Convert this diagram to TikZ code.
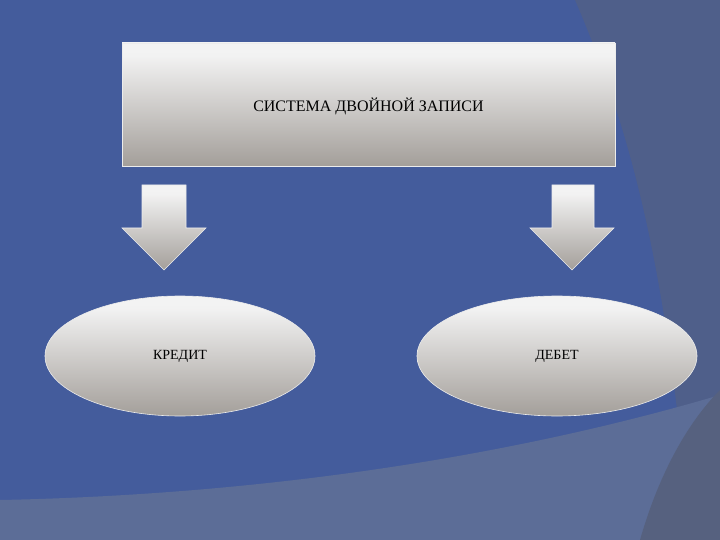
\documentclass[tikz,border=0pt]{standalone}
\usepackage{fontspec}
\setmainfont{Liberation Serif}
\usetikzlibrary{shapes.geometric}
\pgfdeclareverticalshading{metal}{100bp}{color(0bp)=(gray!60!white);color(12bp)=(gray!70!white);color(22bp)=(gray!90!brown!80!white);color(70bp)=(white!90!gray);color(100bp)=(white!95!gray)}
\definecolor{bgblue}{HTML}{445C9C}
\definecolor{bgslate}{HTML}{4F5F8A}
\definecolor{bgband}{HTML}{5C6D97}
\definecolor{bgdark}{HTML}{56617F}
\tikzset{metalfill/.style={shading=metal, draw=white!85!gray, line width=0.6pt},
lbl/.style={font=\fontsize{#1}{#1}\selectfont, text=black}}
\begin{document}
\begin{tikzpicture}[x=1pt,y=-1pt]
\fill[bgblue] (0,0) rectangle (720,540);
\fill[bgslate] (575,0) .. controls (640,150) and (670,300) .. (690,540) -- (720,540) -- (720,0) -- cycle;
\fill[bgband] (0,500) .. controls (250,495) and (500,460) .. (720,395) -- (720,540) -- (0,540) -- cycle;
\fill[bgdark] (640,540) .. controls (660,470) and (690,420) .. (720,390) -- (720,540) -- cycle;
\node[metalfill, rectangle, minimum width=493pt, minimum height=123pt, inner sep=0pt] (top) at (368.5,104.5) {};
\node[lbl=16] (toptext) at (368.5,106) {СИСТЕМА ДВОЙНОЙ ЗАПИСИ};
\path[metalfill] (142,185) -- (186,185) -- (186,228) -- (206,228) -- (164,270) -- (122,228) -- (142,228) -- cycle;
\path[metalfill] (552,185) -- (594,185) -- (594,228) -- (614,228) -- (572,270) -- (530,228) -- (552,228) -- cycle;
\node[metalfill, ellipse, minimum width=270pt, minimum height=120pt, inner sep=0pt] (kred) at (180,356) {};
\node[lbl=14] at (kred) {КРЕДИТ};
\node[metalfill, ellipse, minimum width=280pt, minimum height=120pt, inner sep=0pt] (deb) at (557,356) {};
\node[lbl=14] at (deb) {ДЕБЕТ};
\end{tikzpicture}
\end{document}
